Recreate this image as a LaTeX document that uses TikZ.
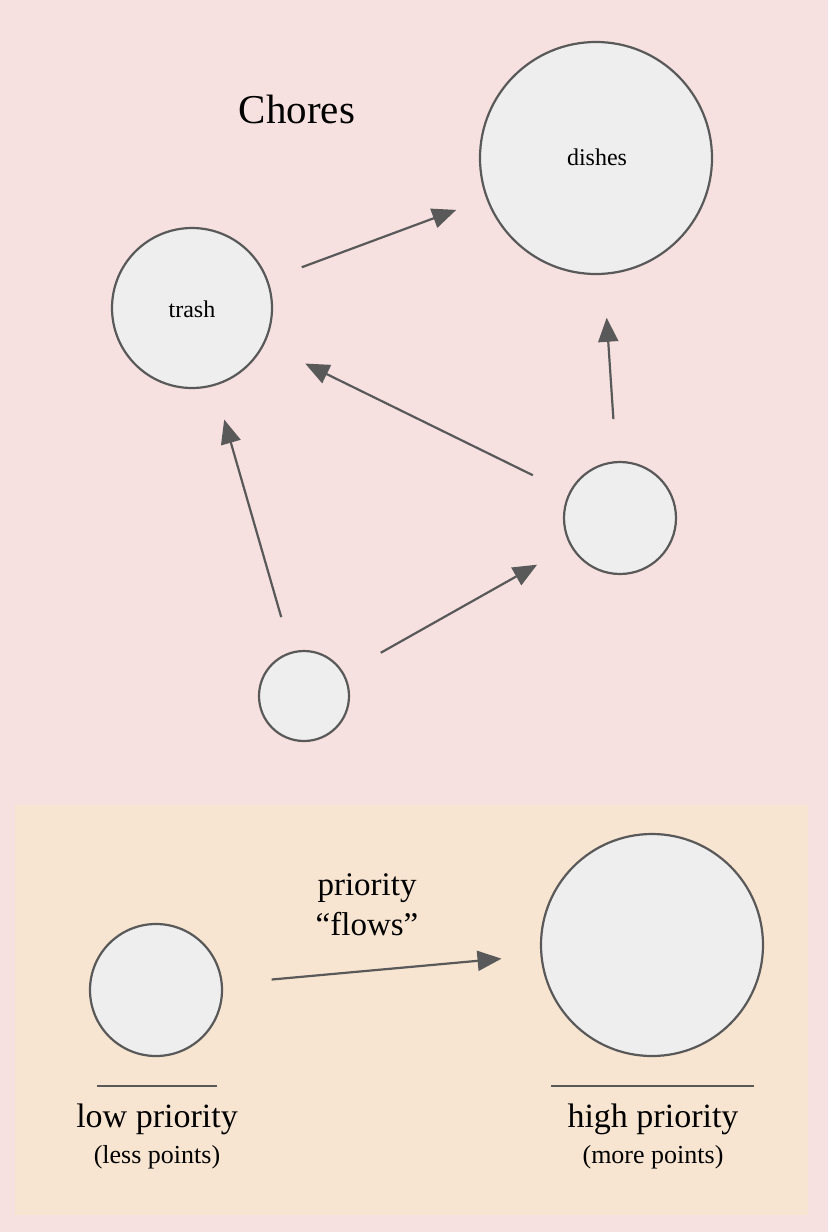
\documentclass[tikz,border=0pt]{standalone}
\usepackage{fontspec}
\setmainfont{Liberation Serif}
\usetikzlibrary{arrows.meta}
\definecolor{bgpink}{HTML}{F6E1E0}
\definecolor{boxpeach}{HTML}{F8E5D1}
\definecolor{circfill}{HTML}{EEEEEE}
\definecolor{inkgray}{HTML}{595959}
\tikzset{
  chore/.style={circle, draw=inkgray, fill=circfill, line width=2.2pt, inner sep=0pt},
  flow/.style={draw=inkgray, line width=2.2pt, -{Triangle[length=24pt,width=20pt]}},
  lbl/.style={anchor=base, inner sep=0pt, text=black},
  rule/.style={draw=inkgray, line width=2pt}
}
\newcommand{\fsz}[1]{\fontsize{#1}{#1}\selectfont}
\begin{document}
\begin{tikzpicture}[x=1pt, y=-1pt]
  \useasboundingbox (0,0) rectangle (828,1232);
  \fill[bgpink] (0,0) rectangle (828,1232);
  \fill[boxpeach] (15,805) rectangle (808,1215);

  % title
  \node[lbl, font=\fsz{41}] (title) at (297,123) {Chores};

  % chores graph
  \node[chore, minimum size=232pt] (dishes) at (596,158) {};
  \node[lbl, font=\fsz{24}] (dishesl) at (597,165) {dishes};
  \node[chore, minimum size=160pt] (trash) at (192,308) {};
  \node[lbl, font=\fsz{24}] (trashl) at (192,317) {trash};
  \node[chore, minimum size=112pt] (mid) at (620,518) {};
  \node[chore, minimum size=90pt] (bottom) at (304,696) {};

  \draw[flow, shorten <=36pt, shorten >=32pt] (trash) -- (dishes);
  \draw[flow, shorten <=40pt, shorten >=45pt] (mid) -- (trash);
  \draw[flow, shorten <=42pt, shorten >=43pt] (mid) -- (dishes);
  \draw[flow, shorten <=36pt, shorten >=35pt] (bottom) -- (trash);
  \draw[flow, shorten <=42pt, shorten >=38pt] (bottom) -- (mid);

  % legend
  \node[chore, minimum size=132pt] (low) at (156,990) {};
  \node[chore, minimum size=222pt] (high) at (652,945) {};
  \draw[flow, shorten <=49pt, shorten >=39pt] (low) -- (high);
  \node[lbl, font=\fsz{33}] (prio) at (367,895) {priority};
  \node[lbl, font=\fsz{33}] (flows) at (367,935) {“flows”};

  \draw[rule] (97,1086) -- (217,1086);
  \draw[rule] (551,1086) -- (754,1086);
  \node[lbl, font=\fsz{34}] (lowl) at (157,1127) {low priority};
  \node[lbl, font=\fsz{26}] (lows) at (157,1163) {(less points)};
  \node[lbl, font=\fsz{34}] (highl) at (653,1127) {high priority};
  \node[lbl, font=\fsz{26}] (highs) at (653,1163) {(more points)};
\end{tikzpicture}
\end{document}
